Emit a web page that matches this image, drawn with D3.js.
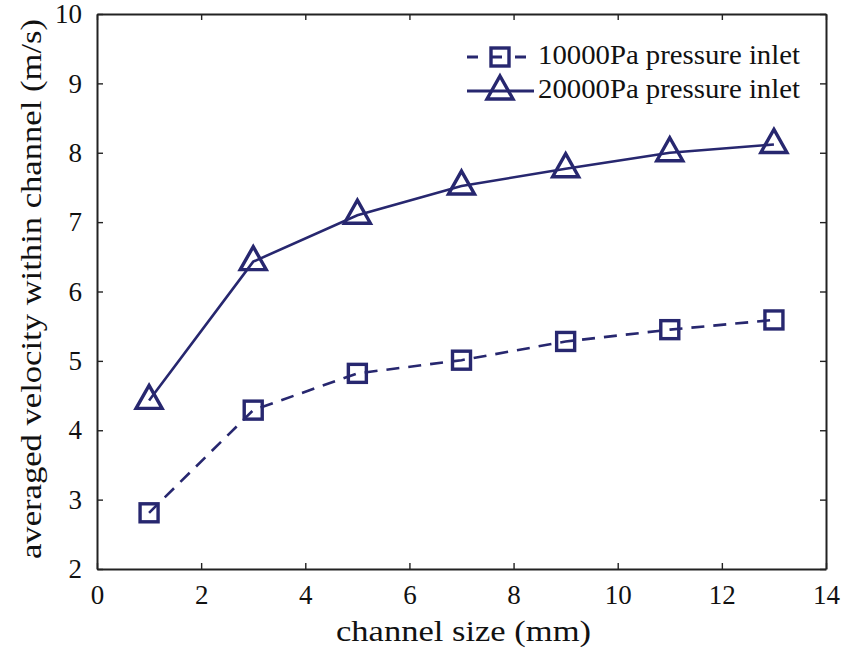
<!DOCTYPE html>
<html>
<head>
<meta charset="utf-8">
<script src="https://cdn.jsdelivr.net/npm/d3@7"></script>
<style>
  body { margin: 0; background: #fff; }
</style>
</head>
<body>
<div id="chart"></div>
<script>
// channel size (mm)
var sizes = [1, 3, 5, 7, 9, 11, 13];
// averaged velocity (m/s)
var inlet10000 = [2.81, 4.29, 4.82, 5.01, 5.28, 5.45, 5.59];
var inlet20000 = [4.43, 6.43, 7.10, 7.52, 7.77, 8.00, 8.12];
var xTicks = [0, 2, 4, 6, 8, 10, 12, 14];
var yTicks = [2, 3, 4, 5, 6, 7, 8, 9, 10];
var seriesNames = ['10000Pa pressure inlet', '20000Pa pressure inlet'];

var margin = { top: 14, right: 17, bottom: 89, left: 97 };
var width = 843 - margin.left - margin.right;
var height = 658 - margin.top - margin.bottom;
var navy = '#27276f';
var serif = 'Liberation Serif';

var x = d3.scaleLinear().domain([0, 14]).range([0, width]);
var y = d3.scaleLinear().domain([2, 10]).range([height, 0]);

var svg = d3.select('#chart')
    .append('svg')
    .attr('width', 843)
    .attr('height', 658);

var g = svg.append('g')
    .attr('transform', `translate(${margin.left}, ${margin.top})`);

// axes with inward ticks on all sides
var tickLen = 6;
g.append('g')
    .attr('class', 'x-axis')
    .attr('transform', `translate(0, ${height})`)
    .call(d3.axisBottom(x).tickValues(xTicks).tickSizeInner(-tickLen).tickSizeOuter(0).tickPadding(16));
g.append('g')
    .attr('class', 'x-axis-top')
    .call(d3.axisTop(x).tickValues(xTicks).tickSizeInner(-tickLen).tickSizeOuter(0).tickFormat(''));
g.append('g')
    .attr('class', 'y-axis')
    .call(d3.axisLeft(y).tickValues(yTicks).tickSizeInner(-tickLen).tickSizeOuter(0).tickPadding(15));
g.append('g')
    .attr('class', 'y-axis-right')
    .attr('transform', `translate(${width}, 0)`)
    .call(d3.axisRight(y).tickValues(yTicks).tickSizeInner(-tickLen).tickSizeOuter(0).tickFormat(''));

g.selectAll('.domain').attr('stroke', '#222').attr('stroke-width', 2);
g.selectAll('.tick line').attr('stroke', '#222').attr('stroke-width', 1.4);
g.selectAll('.tick text')
    .attr('font-family', serif)
    .attr('font-size', 27)
    .attr('fill', '#111');

// axis labels
svg.append('text')
    .attr('x', margin.left + width / 2 + 2)
    .attr('y', 641)
    .attr('text-anchor', 'middle')
    .attr('font-family', serif)
    .attr('font-size', 29)
    .attr('fill', '#111')
    .attr('textLength', 255)
    .attr('lengthAdjust', 'spacingAndGlyphs')
    .text('channel size (mm)');

svg.append('text')
    .attr('transform', 'rotate(-90)')
    .attr('x', -289)
    .attr('y', 41)
    .attr('text-anchor', 'middle')
    .attr('font-family', serif)
    .attr('font-size', 29)
    .attr('fill', '#111')
    .attr('textLength', 540)
    .attr('lengthAdjust', 'spacingAndGlyphs')
    .text('averaged velocity within channel (m/s)');

var line = d3.line()
    .x(d => x(d[0]))
    .y(d => y(d[1]));

var data10 = sizes.map((s, i) => [s, inlet10000[i]]);
var data20 = sizes.map((s, i) => [s, inlet20000[i]]);

g.append('path')
    .datum(data10)
    .attr('fill', 'none')
    .attr('stroke', navy)
    .attr('stroke-width', 2.6)
    .attr('stroke-dasharray', '13,9')
    .attr('d', line);

g.append('path')
    .datum(data20)
    .attr('fill', 'none')
    .attr('stroke', navy)
    .attr('stroke-width', 2.6)
    .attr('d', line);

var sq = 18;
function square(sel) {
    sel.append('rect')
        .attr('x', -sq / 2)
        .attr('y', -sq / 2)
        .attr('width', sq)
        .attr('height', sq)
        .attr('fill', 'none')
        .attr('stroke', navy)
        .attr('stroke-width', 3.4);
}
var triPath = 'M0,-15L13,8L-13,8Z';
function triangle(sel) {
    sel.append('path')
        .attr('d', triPath)
        .attr('fill', 'none')
        .attr('stroke', navy)
        .attr('stroke-width', 3.4)
        .attr('stroke-linejoin', 'miter');
}

g.selectAll('.sq')
    .data(data10)
    .enter()
    .append('g')
    .attr('class', 'sq')
    .attr('transform', d => `translate(${x(d[0])}, ${y(d[1])})`)
    .call(square);

g.selectAll('.tri')
    .data(data20)
    .enter()
    .append('g')
    .attr('class', 'tri')
    .attr('transform', d => `translate(${x(d[0])}, ${y(d[1])})`)
    .call(triangle);

// legend
var legend = svg.append('g').attr('transform', 'translate(467, 57)');
var rows = legend.selectAll('.row')
    .data(seriesNames)
    .enter()
    .append('g')
    .attr('class', 'row')
    .attr('transform', (d, i) => `translate(0, ${i * 34})`);

rows.append('line')
    .attr('x1', 0)
    .attr('x2', 67)
    .attr('stroke', navy)
    .attr('stroke-width', 3)
    .attr('stroke-dasharray', (d, i) => i === 0 ? '11,13' : null);

rows.filter((d, i) => i === 0)
    .append('g')
    .attr('transform', 'translate(33, 0)')
    .call(square);
rows.filter((d, i) => i === 1)
    .append('g')
    .attr('transform', 'translate(33, 0)')
    .call(triangle);

rows.append('text')
    .attr('x', 71)
    .attr('y', 7)
    .attr('font-family', serif)
    .attr('font-size', 27)
    .attr('fill', '#111')
    .attr('textLength', 262)
    .attr('lengthAdjust', 'spacingAndGlyphs')
    .text(d => d);
</script>
</body>
</html>
